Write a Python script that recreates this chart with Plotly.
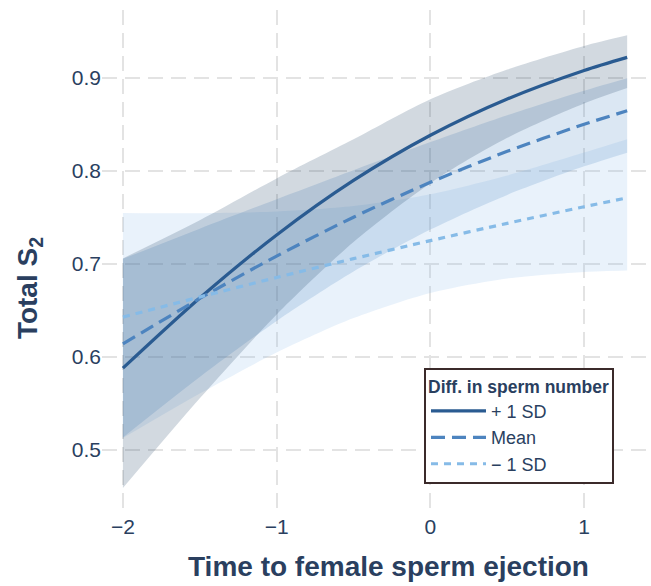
import plotly.graph_objects as go

# Time to female sperm ejection (standardised)
x_vals = [-2.0, -1.5, -1.0, -0.5, 0.0, 0.5, 1.0, 1.28]

# + 1 SD
plus_fit = [0.588, 0.6634, 0.7312, 0.7898, 0.8384, 0.8774, 0.9081, 0.9222]
plus_lo = [0.459, 0.5555, 0.6457, 0.7236, 0.7869, 0.8356, 0.8725, 0.8891]
plus_hi = [0.706, 0.747, 0.792, 0.834, 0.877, 0.909, 0.9345, 0.9459]

# Mean
mean_fit = [0.614, 0.6629, 0.7085, 0.7503, 0.7878, 0.8211, 0.8502, 0.8647]
mean_lo = [0.5135, 0.5785, 0.6387, 0.6919, 0.737, 0.7743, 0.805, 0.8197]
mean_hi = [0.7055, 0.738, 0.7696, 0.8008, 0.8311, 0.86, 0.8864, 0.8998]

# - 1 SD
minus_fit = [0.6429, 0.6645, 0.6855, 0.7057, 0.7251, 0.7437, 0.7615, 0.7711]
minus_lo = [0.5128, 0.5607, 0.6047, 0.6418, 0.6689, 0.6845, 0.6915, 0.6931]
minus_hi = [0.7549, 0.7546, 0.7564, 0.7623, 0.775, 0.7952, 0.8198, 0.834]

series_names = ["+ 1 SD", "Mean", "\u2212 1 SD"]
x_ticks = [-2, -1, 0, 1]
y_ticks = [0.5, 0.6, 0.7, 0.8, 0.9]

line_colors = ["#2a5b91", "#4d84bf", "#86bbe7"]
fill_colors = ["rgba(31,63,102,0.2)", "rgba(74,134,197,0.2)", "rgba(143,192,234,0.2)"]
dashes = ["solid", "14px,7px", "7px,6px"]

fits = [plus_fit, mean_fit, minus_fit]
los = [plus_lo, mean_lo, minus_lo]
his = [plus_hi, mean_hi, minus_hi]

fig = go.Figure()

# ribbons
for i in [2, 1, 0]:
    fig.add_trace(go.Scatter(
        x=x_vals, y=los[i], mode="lines",
        line=dict(width=0, shape="spline", smoothing=0.8),
        showlegend=False, hoverinfo="skip"))
    fig.add_trace(go.Scatter(
        x=x_vals, y=his[i], mode="lines",
        fill="tonexty", fillcolor=fill_colors[i],
        line=dict(width=0, shape="spline", smoothing=0.8),
        showlegend=False, hoverinfo="skip"))

# lines
for i in range(3):
    fig.add_trace(go.Scatter(
        x=x_vals, y=fits[i], mode="lines", name=series_names[i],
        line=dict(color=line_colors[i], width=3.2, dash=dashes[i],
                  shape="spline", smoothing=0.8)))

font_col = "#2a3f5f"
fig.update_layout(
    width=651, height=586,
    margin=dict(l=102, r=0, t=10, b=74),
    paper_bgcolor="white", plot_bgcolor="white",
    font=dict(family="Liberation Sans, Arial, sans-serif", color=font_col),
    showlegend=True,
    legend=dict(
        x=0.5865, y=0.2869, xanchor="left", yanchor="top",
        bgcolor="white", bordercolor="#3b2a2a", borderwidth=2,
        font=dict(size=18, color=font_col),
        title=dict(text="<b>Diff. in sperm number</b>", font=dict(size=17.5, color=font_col)),
        traceorder="normal", itemwidth=55,
    ),
    annotations=[
        dict(text="<b>Total S<sub>2</sub></b>", xref="paper", yref="paper",
             x=-0.133, y=0.446, xanchor="center", yanchor="middle",
             textangle=-90, showarrow=False, font=dict(size=28, color=font_col)),
        dict(text="<b>Time to female sperm ejection</b>", xref="paper", yref="paper",
             x=0.521, y=-0.108, xanchor="center", yanchor="middle",
             showarrow=False, font=dict(size=28, color=font_col)),
    ],
)
fig.update_xaxes(
    range=[-2.136, 1.435], tickvals=x_ticks, showgrid=True,
    gridcolor="#e3e3e3", griddash="15px,8px", gridwidth=1.5,
    zeroline=False, showline=False, ticks="",
    tickfont=dict(size=21, color=font_col))
fig.update_yaxes(
    range=[0.4333, 0.9731], tickvals=y_ticks, showgrid=True,
    gridcolor="#e3e3e3", griddash="15px,8px", gridwidth=1.5,
    zeroline=False, showline=False, ticks="",
    tickfont=dict(size=21, color=font_col))

fig.write_html("out.html")
